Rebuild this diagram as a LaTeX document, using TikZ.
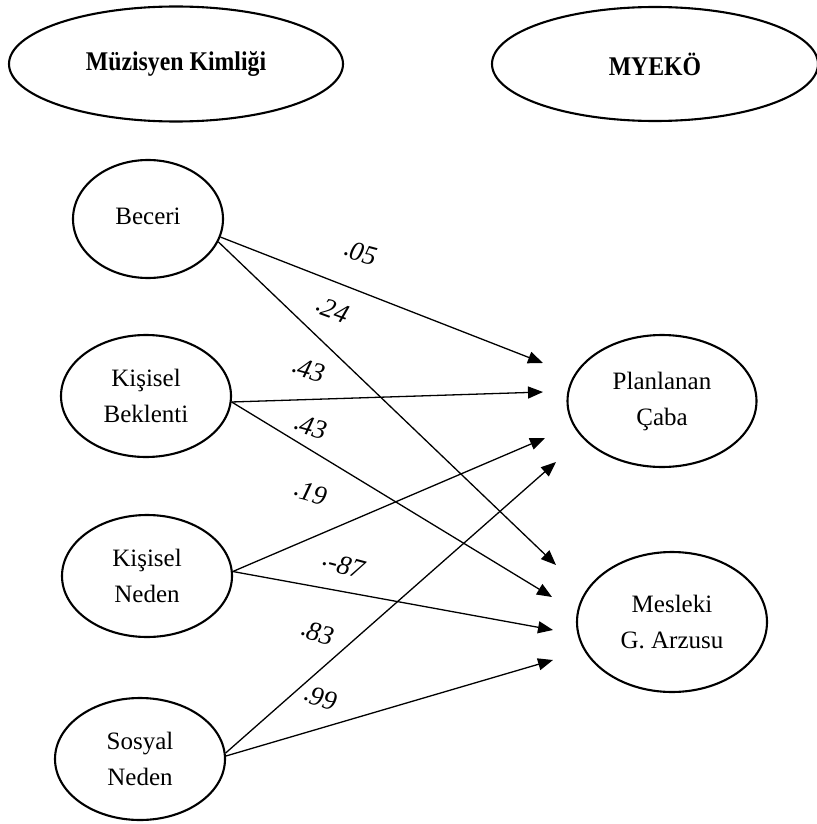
\documentclass[tikz,border=0pt]{standalone}
\usepackage{fontspec}
\setmainfont{Liberation Serif}
\usetikzlibrary{shapes.geometric,arrows.meta}

% coefficient with a raised leading point
\newcommand{\cf}[1]{\raisebox{0.12em}{\upshape.}#1}

\begin{document}
\begin{tikzpicture}[x=1pt,y=-1pt,
  latent/.style={ellipse, draw, line width=2.1pt, inner sep=0pt, align=center,
                 font=\fontsize{25}{36}\selectfont},
  title/.style={latent, font=\fontsize{27}{30}\selectfont\bfseries},
  effect/.style={line width=1.3pt, -{Triangle[length=15pt,width=12pt]}},
  coef/.style={font=\fontsize{27}{30}\selectfont\itshape, rotate=-15, inner sep=0pt}]
\useasboundingbox (0,0) rectangle (816,824);

% construct headers
\node[title, minimum width=334pt, minimum height=115pt] (mk) at (176,64) {\scalebox{0.88}[1]{Müzisyen Kimliği}};
\node[title, minimum width=326pt, minimum height=114pt] (myeko) at (655,64) {\scalebox{0.88}[1]{MYEKÖ}};

% predictor dimensions
\node[latent, minimum width=150pt, minimum height=118pt] (beceri) at (148,219) {\raisebox{5pt}{Beceri}};
\node[latent, minimum width=170pt, minimum height=122pt] (kb) at (146,396) {Kişisel\\Beklenti};
\node[latent, minimum width=170pt, minimum height=122pt] (kn) at (147,576) {Kişisel\\Neden};
\node[latent, minimum width=170pt, minimum height=122pt] (sn) at (140,759) {Sosyal\\Neden};

% outcome dimensions
\node[latent, minimum width=189pt, minimum height=132pt] (pc) at (662,401) {Planlanan\\Çaba};
\node[latent, minimum width=190pt, minimum height=140pt] (mga) at (672,622) {Mesleki\\G. Arzusu};

% arrow tips
\coordinate (b-p) at (543,363);
\coordinate (b-m) at (556,565);
\coordinate (kb-p) at (543,392);
\coordinate (kb-m) at (552,597);
\coordinate (kn-p) at (545,438);
\coordinate (kn-m) at (553,630);
\coordinate (sn-p) at (556,462);
\coordinate (sn-m) at (553,660);

% paths
\draw[effect] (beceri.-14) -- (b-p);
\draw[effect] (beceri.-18) -- (b-m);
\draw[effect] (kb.-4) -- (kb-p);
\draw[effect] (kb.-4) -- (kb-m);
\draw[effect] (kn.3) -- (kn-p);
\draw[effect] (kn.3) -- (kn-m);
\draw[effect] (sn.4) -- (sn-p);
\draw[effect] (sn.2) -- (sn-m);

% path coefficients
\node[coef] (c1) at (360,253) {\cf{05}};
\node[coef, rotate=-5] (c2) at (332,310) {\cf{24}};
\node[coef] (c3) at (308,370) {\cf{43}};
\node[coef] (c4) at (310,427) {\cf{43}};
\node[coef] (c5) at (310,493) {\cf{19}};
\node[coef] (c6) at (343,565) {\cf{-87}};
\node[coef] (c7) at (317,633) {\cf{83}};
\node[coef] (c8) at (320,698) {\cf{99}};
\end{tikzpicture}
\end{document}
